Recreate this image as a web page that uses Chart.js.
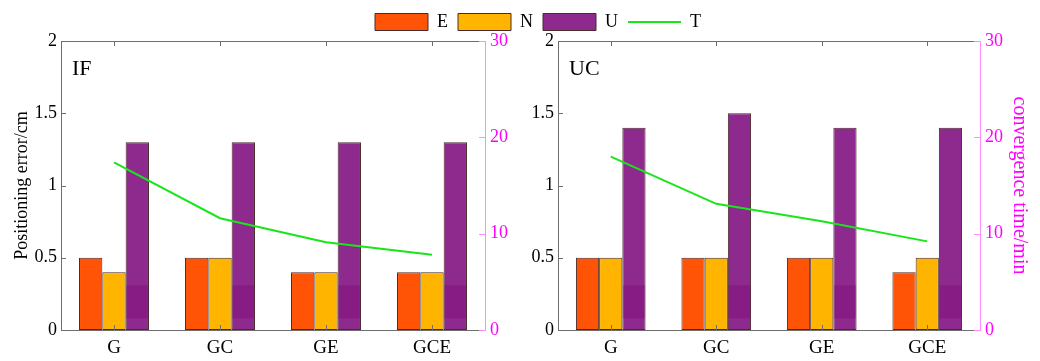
<!DOCTYPE html>
<html>
<head>
<meta charset="utf-8">
<script src="https://cdn.jsdelivr.net/npm/chart.js@4.4.0/dist/chart.umd.min.js"></script>
<style>
html, body { margin: 0; padding: 0; background: #fff; }
#wrap { position: relative; width: 1040px; height: 361px; overflow: hidden; }
#wrap canvas { position: absolute; left: 0; top: 0; }
</style>
</head>
<body>
<div id="wrap">
  <canvas id="leftChart" width="1040" height="361"></canvas>
  <canvas id="rightChart" width="1040" height="361"></canvas>
</div>
<script>
// data
const categories = ['G', 'GC', 'GE', 'GCE'];
const seriesNames = ['E', 'N', 'U', 'T'];
const ifE = [0.5, 0.5, 0.4, 0.4];
const ifN = [0.4, 0.5, 0.4, 0.4];
const ifU = [1.3, 1.3, 1.3, 1.3];
const ifT = [17.4, 11.6, 9.1, 7.8];
const ucE = [0.5, 0.5, 0.5, 0.4];
const ucN = [0.5, 0.5, 0.5, 0.5];
const ucU = [1.4, 1.5, 1.4, 1.4];
const ucT = [18.0, 13.1, 11.3, 9.2];
const errorMax = 2, errorStep = 0.5;
const timeMax = 30, timeStep = 10;

const colE = '#FF5306';
const colN = '#FFB400';
const colU = '#8E2A8E';
const colT = '#19E619';
const pink = '#FF00FF';
const pinkLine = '#FF8CFF';
const axisGray = '#6e6e6e';

Chart.defaults.font.family = "'Liberation Serif', 'DejaVu Serif', serif";
Chart.defaults.font.size = 18;
Chart.defaults.color = '#000';

// dark band seen in the lower part of the U bars
const bandLow = 0.08, bandHigh = 0.31;

const panelDecor = {
  id: 'panelDecor',
  afterDatasetsDraw(chart, args, opts) {
    const ctx = chart.ctx;
    const y = chart.scales.y;
    const meta = chart.getDatasetMeta(2);
    const top = y.getPixelForValue(bandHigh), bot = y.getPixelForValue(bandLow);
    ctx.save();
    ctx.fillStyle = 'rgba(120,0,110,0.3)';
    meta.data.forEach(b => ctx.fillRect(b.x - b.width / 2 + 0.5, top, b.width - 1, bot - top));
    ctx.restore();
  },
  afterDraw(chart, args, opts) {
    const ctx = chart.ctx, a = chart.chartArea;
    const x = chart.scales.x, y = chart.scales.y, y1 = chart.scales.y1;
    ctx.save();
    ctx.lineWidth = 1;
    ctx.strokeStyle = axisGray;
    ctx.beginPath();
    ctx.moveTo(a.left, a.top + 0.5); ctx.lineTo(a.right, a.top + 0.5);
    x.ticks.forEach((t, i) => {
      const px = Math.round(x.getPixelForTick(i)) + 0.5;
      ctx.moveTo(px, a.bottom); ctx.lineTo(px, a.bottom - 5);
      ctx.moveTo(px, a.top); ctx.lineTo(px, a.top + 5);
    });
    y.ticks.forEach((t, i) => {
      const py = Math.round(y.getPixelForTick(i)) + 0.5;
      ctx.moveTo(a.left, py); ctx.lineTo(a.left + 5, py);
    });
    ctx.stroke();
    ctx.strokeStyle = pinkLine;
    ctx.beginPath();
    y1.ticks.forEach((t, i) => {
      const py = Math.round(y1.getPixelForTick(i)) + 0.5;
      ctx.moveTo(a.right, py); ctx.lineTo(a.right - 6, py);
    });
    ctx.stroke();
    ctx.fillStyle = '#000';
    ctx.font = "22px 'Liberation Serif'";
    ctx.textBaseline = 'alphabetic';
    ctx.fillText(opts.label, a.left + 11, a.top + 34);
    ctx.restore();
  }
};

function makeDatasets(e, n, u, t) {
  const bar = (label, data, color) => ({
    type: 'bar', label, data, backgroundColor: color, borderColor: '#4a2a2a',
    borderWidth: 1, borderSkipped: false, yAxisID: 'y', order: 1,
    categoryPercentage: 0.66, barPercentage: 1.0
  });
  return [
    bar(seriesNames[0], e, colE),
    bar(seriesNames[1], n, colN),
    bar(seriesNames[2], u, colU),
    { type: 'line', label: seriesNames[3], data: t, borderColor: colT, backgroundColor: colT,
      borderWidth: 2, pointRadius: 0, yAxisID: 'y1', order: 0, tension: 0 }
  ];
}

function legendLabels(hidden) {
  return {
    usePointStyle: true,
    pointStyleWidth: 53,
    boxHeight: 17,
    padding: 10,
    color: hidden ? 'rgba(0,0,0,0)' : '#000',
    font: { size: 18 },
    sort: (a, b) => a.datasetIndex - b.datasetIndex,
    generateLabels(chart) {
      const items = Chart.defaults.plugins.legend.labels.generateLabels(chart);
      return items.map(it => {
        const ds = chart.data.datasets[it.datasetIndex];
        it.pointStyle = ds.type === 'line' ? 'line' : 'rect';
        if (hidden) { it.fillStyle = 'rgba(0,0,0,0)'; it.strokeStyle = 'rgba(0,0,0,0)'; }
        return it;
      });
    }
  };
}

function makeChart(id, label, e, n, u, t, opts) {
  return new Chart(document.getElementById(id), {
    data: { labels: categories, datasets: makeDatasets(e, n, u, t) },
    options: {
      responsive: false,
      animation: false,
      events: [],
      layout: { padding: opts.padding },
      plugins: {
        legend: { display: true, position: 'top', labels: legendLabels(opts.hideLegend) },
        tooltip: { enabled: false },
        panelDecor: { label }
      },
      scales: {
        x: {
          grid: { display: false, drawTicks: false },
          border: { color: axisGray },
          ticks: { padding: 7, font: { size: 19 }, color: '#000' },
          afterFit(s) { s.height = 31; }
        },
        y: {
          position: 'left', min: 0, max: errorMax,
          grid: { display: false, drawTicks: false },
          border: { color: axisGray },
          ticks: { stepSize: errorStep, padding: 4, color: '#000', font: { size: 18 }, callback: v => String(v) },
          title: { display: opts.leftTitle, text: 'Positioning error/cm', color: '#000', font: { size: 18 }, padding: { top: 11, bottom: 0 } },
          afterFit(s) { s.width = opts.yWidth; }
        },
        y1: {
          position: 'right', min: 0, max: timeMax,
          grid: { display: false, drawTicks: false },
          border: { color: pinkLine },
          ticks: { stepSize: timeStep, padding: 5, color: pink, font: { size: 18 }, callback: v => String(v) },
          title: { display: opts.rightTitle, text: 'convergence time/min', color: pink, font: { size: 20 }, padding: { top: 9, bottom: 0 } },
          afterFit(s) { s.width = opts.y1Width; }
        }
      }
    },
    plugins: [panelDecor]
  });
}

makeChart('leftChart', 'IF', ifE, ifN, ifU, ifT, {
  padding: { left: 0, right: -36, top: 3, bottom: 0 },
  hideLegend: false, leftTitle: true, rightTitle: false,
  yWidth: 61, y1Width: 591
});
makeChart('rightChart', 'UC', ucE, ucN, ucU, ucT, {
  padding: { left: 0, right: 0, top: 3, bottom: 0 },
  hideLegend: true, leftTitle: false, rightTitle: true,
  yWidth: 558, y1Width: 60
});
</script>
</body>
</html>
